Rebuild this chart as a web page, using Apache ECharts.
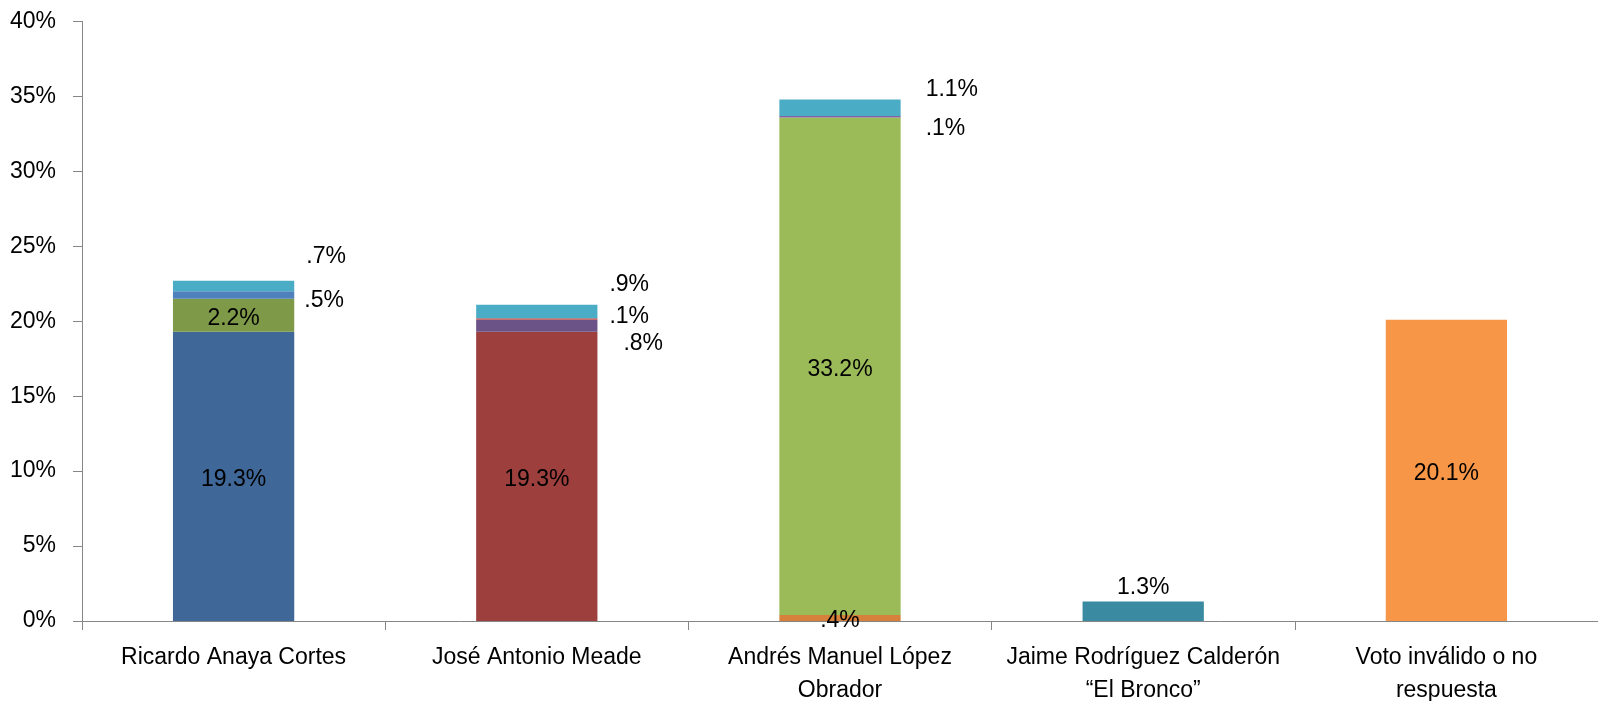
<!DOCTYPE html>
<html><head><meta charset="utf-8">
<script src="https://cdn.jsdelivr.net/npm/echarts@6/dist/echarts.min.js"></script>
<style>html,body{margin:0;padding:0;background:#fff}#c{width:1598px;height:701px}</style>
</head><body><div id="c"></div>
<script>
const categories = ['Ricardo Anaya Cortes', 'José Antonio Meade', 'Andrés Manuel López\nObrador', 'Jaime Rodríguez Calderón\n“El Bronco”', 'Voto inválido o no\nrespuesta'];
const layer1 = [19.3, 19.3, 0.4, 1.3, 20.1];
const layer2 = [2.2, 0.8, 33.2, null, null];
const layer3 = [0.5, 0.1, 0.1, null, null];
const layer4 = [0.7, 0.9, 1.1, null, null];
const labelText1 = ['19.3%', '19.3%', '.4%', '1.3%', '20.1%'];
const labelText2 = ['2.2%', '.8%', '33.2%', '', ''];
const labelText3 = ['.5%', '.1%', '.1%', '', ''];
const labelText4 = ['.7%', '.9%', '1.1%', '', ''];
const yTicks = [0, 5, 10, 15, 20, 25, 30, 35, 40];

const colors1 = ['#3F6899', '#9C3F3D', '#D6803C', '#3A8BA2', '#F79646'];
const colors2 = ['#7E9A48', '#6B5287', '#9BBB59'];
const colors3 = ['#4F81BD', '#C0504D', '#8064A2'];
const colors4 = ['#4BACC6', '#4BACC6', '#4BACC6'];

const FONT = 'Liberation Sans, Arial, sans-serif';
const FS = 23;
// label placement styles (not data)
const lab = {
  inside: {show: true, position: 'inside', offset: [0, 3]},
  top: {show: true, position: 'top', distance: 2},
};
function rightLab(dx, dy) { return {show: true, position: 'right', distance: 0, offset: [dx, dy]}; }
const labels1 = [lab.inside, lab.inside, lab.inside, lab.top, lab.inside];
const labels2 = [lab.inside, rightLab(26, 18), lab.inside, null, null];
const labels3 = [rightLab(10, 6), rightLab(12, -2), rightLab(25, 12), null, null];
const labels4 = [rightLab(12, -29), rightLab(12, -27), rightLab(25, -18), null, null];

function build(vals, cols, texts, labs) {
  return vals.map((v, i) => {
    if (v == null) return null;
    const l = Object.assign({color: '#000', fontSize: FS, fontFamily: FONT, formatter: texts[i]}, labs[i] || {show: false});
    return {value: v, itemStyle: {color: cols[i]}, label: l};
  });
}
const mk = (vals, cols, texts, labs) => ({
  type: 'bar', stack: 's', barWidth: '40%', data: build(vals, cols, texts, labs),
  emphasis: {disabled: true}
});

const chart = echarts.init(document.getElementById('c'));
chart.setOption({
  animation: false,
  grid: {left: 82, right: 0, top: 21.5, bottom: 80, containLabel: false, outerBoundsMode: 'none'},
  xAxis: {
    type: 'category', data: categories,
    axisLine: {lineStyle: {color: '#868686', width: 1}},
    axisTick: {show: true, length: 9, lineStyle: {color: '#868686'}},
    axisLabel: {color: '#000', fontSize: FS, margin: 20, lineHeight: 33, fontFamily: FONT, interval: 0}
  },
  yAxis: {
    type: 'value', min: 0, max: 40, interval: 5,
    axisLine: {show: true, lineStyle: {color: '#868686'}},
    axisTick: {show: true, length: 9, lineStyle: {color: '#868686'}},
    splitLine: {show: false},
    axisLabel: {color: '#000', fontSize: FS, margin: 26, fontFamily: FONT, formatter: v => yTicks.includes(v) ? v + '%' : ''}
  },
  series: [
    mk(layer1, colors1, labelText1, labels1),
    mk(layer2, colors2, labelText2, labels2),
    mk(layer3, colors3, labelText3, labels3),
    mk(layer4, colors4, labelText4, labels4)
  ]
});
</script></body></html>
